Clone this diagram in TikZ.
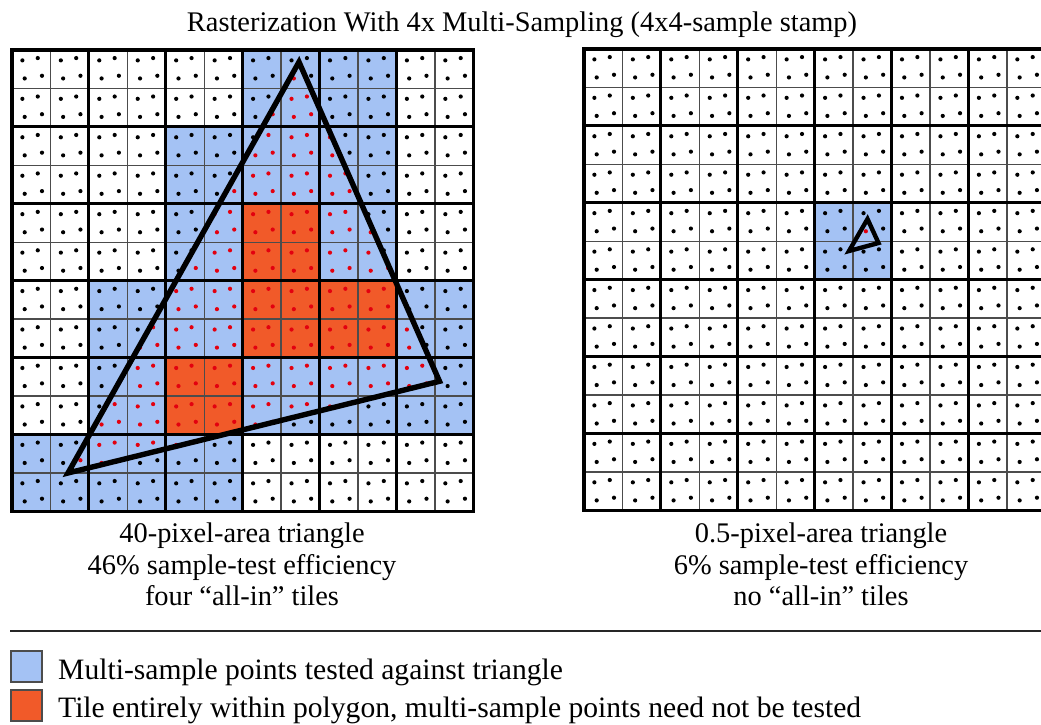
\documentclass[tikz,border=0pt]{standalone}
\usepackage{fontspec}
\setmainfont{Liberation Serif}
\definecolor{tileblue}{HTML}{A4C2F4}
\definecolor{tileorange}{HTML}{F15A29}
\definecolor{samplered}{HTML}{E3000F}
\def\P{38.45}
\def\T{76.9}
\newcommand\mygrid[2]{%
  \foreach \k in {1,3,...,11}{%
    \draw[thinline] ({#1+\k*\P},#2) -- ++(0,{12*\P});
    \draw[thinline] (#1,{#2+\k*\P}) -- ++({12*\P},0);
  }
  \foreach \k in {2,4,...,10}{%
    \draw[thickline] ({#1+\k*\P},#2) -- ++(0,{12*\P});
    \draw[thickline] (#1,{#2+\k*\P}) -- ++({12*\P},0);
  }
  \draw[thickline,line width=3.4pt] (#1,#2) rectangle ++({12*\P},{12*\P});
}
\newcommand\mydots[8]{%
  \foreach \i in {0,...,11}{%
    \foreach \j in {0,...,11}{%
      \foreach \sx/\sy in {0.27/0.27,0.67/0.21,0.33/0.74,0.78/0.67}{%
        \edef\px{\fpeval{#1+(\i+\sx)*\P}}%
        \edef\py{\fpeval{#2+(\j+\sy)*\P}}%
        \edef\da{\fpeval{(\px-(#5))*((#4)-(#6))-((#3)-(#5))*(\py-(#6))}}%
        \edef\db{\fpeval{(\px-(#7))*((#6)-(#8))-((#5)-(#7))*(\py-(#8))}}%
        \edef\dc{\fpeval{(\px-(#3))*((#8)-(#4))-((#7)-(#3))*(\py-(#4))}}%
        \edef\ins{\fpeval{((\da>0)&&(\db>0)&&(\dc>0))||((\da<0)&&(\db<0)&&(\dc<0))}}%
        \ifnum\ins=1 \fill[samplered] (\px,\py) circle[radius=2.1];\else\fill[black] (\px,\py) circle[radius=2.1];\fi
      }}}}
\begin{document}
\begin{tikzpicture}[x=1pt,y=-1pt,
  thinline/.style={line width=1.4pt, draw=black!70},
  thickline/.style={line width=2.9pt, draw=black},
  tri/.style={line width=5.4pt, line join=miter, draw=black},
  smalltri/.style={line width=4.4pt, line join=miter, draw=black},
  lbl/.style={font=\fontsize{28.4}{32}\selectfont, inner sep=0pt},
  leglbl/.style={font=\fontsize{29.6}{32}\selectfont, inner sep=0pt},
  legbox/.style={draw=black!70, line width=1.2pt, minimum width=31, minimum height=31, inner sep=0pt},
]
\useasboundingbox (0,0) rectangle (1041,725);
\clip (0,0) rectangle (1041,725);

% title
\node[lbl, anchor=base] (title) at (522,32) {Rasterization With 4x Multi-Sampling (4x4-sample stamp)};

% ---------- left grid ----------
\def\ox{12}\def\oy{50}
\foreach \c/\r in {3/0,4/0,2/1,3/1,4/1,2/2,4/2,1/3,2/3,5/3,1/4,3/4,4/4,5/4,0/5,1/5,2/5}{%
  \fill[tileblue] ({\ox+\c*\T},{\oy+\r*\T}) rectangle +(\T,\T);}
\foreach \c/\r in {3/2,3/3,4/3,2/4}{%
  \fill[tileorange] ({\ox+\c*\T},{\oy+\r*\T}) rectangle +(\T,\T);}
\mygrid{12}{50}
\mydots{12}{50}{299}{62}{439.5}{381.3}{68}{473}
\coordinate (LA) at (299,62);
\coordinate (LB) at (439.5,381.3);
\coordinate (LC) at (68,473);
\draw[tri] (LA) -- (LB) -- (LC) -- cycle;

% ---------- right grid ----------
\def\ox{584}\def\oy{49}
\fill[tileblue] ({\ox+3*\T},{\oy+2*\T}) rectangle +(\T,\T);
\mygrid{584}{49}
\mydots{584}{49}{867.5}{219}{878.5}{243}{849}{251}
\coordinate (SA) at (867.5,219);
\coordinate (SB) at (878.5,243);
\coordinate (SC) at (849,251);
\draw[smalltri] (SA) -- (SB) -- (SC) -- cycle;

% captions
\node[lbl, anchor=base] (cl1) at (242,542) {40-pixel-area triangle};
\node[lbl, anchor=base] (cl2) at (242,574) {46\% sample-test efficiency};
\node[lbl, anchor=base] (cl3) at (242,605) {four “all-in” tiles};
\node[lbl, anchor=base] (cr1) at (821,542) {0.5-pixel-area triangle};
\node[lbl, anchor=base] (cr2) at (821,574) {6\% sample-test efficiency};
\node[lbl, anchor=base] (cr3) at (821,605) {no “all-in” tiles};

% separator
\coordinate (r1) at (10,631);
\coordinate (r2) at (1041,631);
\draw[line width=1.3pt, black!85] (r1) -- (r2);

% legend
\node[legbox, fill=tileblue] (legB) at (26.5,666.5) {};
\node[legbox, fill=tileorange] (legO) at (26.5,705.5) {};
\node[leglbl, anchor=base west] (legBt) at (58,679) {Multi-sample points tested against triangle};
\node[leglbl, anchor=base west] (legOt) at (58,717) {Tile entirely within polygon, multi-sample points need not be tested};
\end{tikzpicture}
\end{document}
